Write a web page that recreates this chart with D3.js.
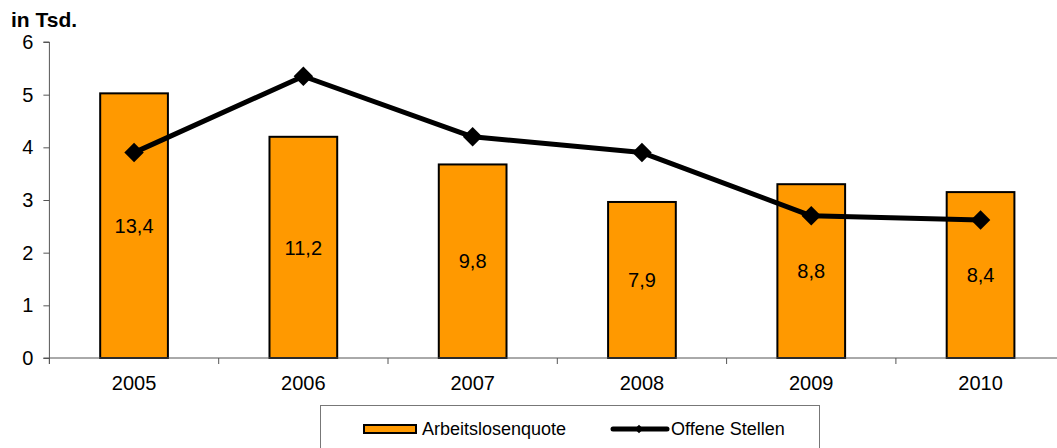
<!DOCTYPE html>
<html>
<head>
<meta charset="utf-8">
<script src="https://cdn.jsdelivr.net/npm/d3@7"></script>
<style>
  html, body { margin: 0; padding: 0; background: #fff; }
  svg { display: block; font-family: "Liberation Sans", Arial, sans-serif; }
</style>
</head>
<body>
<svg id="chart" width="1057" height="448"></svg>
<script>
// Jahre, Arbeitslosenquote (%) und offene Stellen (in Tsd.)
const years = ["2005", "2006", "2007", "2008", "2009", "2010"];
const quote = [13.4, 11.2, 9.8, 7.9, 8.8, 8.4];
const stellen = [3.9, 5.35, 4.2, 3.9, 2.7, 2.62];
const yTicks = [0, 1, 2, 3, 4, 5, 6];

const svg = d3.select("#chart");
const plotLeft = 49.4, plotTop = 42, plotBottom = 358;
const bandW = 169.3;

const x = d3.scaleBand()
  .domain(years)
  .range([plotLeft, plotLeft + bandW * years.length])
  .paddingInner(0).paddingOuter(0);

// linke Achse: offene Stellen in Tsd.
const y = d3.scaleLinear().domain([0, 6]).range([plotBottom, plotTop]);
// verdeckte Nebenachse für die Quote
const y2 = d3.scaleLinear().domain([0, 16]).range([plotBottom, plotTop]);

const barW = x.bandwidth() * 0.4;

// Balken
svg.append("g").selectAll("rect")
  .data(years)
  .join("rect")
  .attr("x", (d) => x(d) + x.bandwidth() / 2 - barW / 2)
  .attr("y", (d, i) => y2(quote[i]))
  .attr("width", barW)
  .attr("height", (d, i) => plotBottom - y2(quote[i]))
  .attr("fill", "#FF9900")
  .attr("stroke", "#000")
  .attr("stroke-width", 2);

// Werte in Balkenmitte
svg.append("g").selectAll("text")
  .data(years)
  .join("text")
  .attr("x", (d) => x(d) + x.bandwidth() / 2)
  .attr("y", (d, i) => (y2(quote[i]) + plotBottom) / 2)
  .attr("dy", "0.36em")
  .attr("text-anchor", "middle")
  .attr("font-size", 20)
  .attr("fill", "#000")
  .text((d, i) => d3.format(".1f")(quote[i]).replace(".", ","));

// x-Achse
const xAxisG = svg.append("g");
xAxisG.append("line")
  .attr("x1", plotLeft - 6).attr("x2", 1057)
  .attr("y1", plotBottom).attr("y2", plotBottom)
  .attr("stroke", "#555").attr("stroke-width", 1);
const boundaries = d3.range(years.length + 1).map((i) => plotLeft + i * bandW);
xAxisG.selectAll("line.tick")
  .data(boundaries)
  .join("line")
  .attr("class", "tick")
  .attr("x1", (d) => d).attr("x2", (d) => d)
  .attr("y1", plotBottom).attr("y2", plotBottom + 6)
  .attr("stroke", "#555");
xAxisG.selectAll("text")
  .data(years)
  .join("text")
  .attr("x", (d) => x(d) + x.bandwidth() / 2)
  .attr("y", 390)
  .attr("text-anchor", "middle")
  .attr("font-size", 20)
  .text((d) => d);

// y-Achse
const yAxis = d3.axisLeft(y).tickValues(yTicks).tickSize(6).tickPadding(10)
  .tickFormat(d3.format("d"));
const yAxisG = svg.append("g")
  .attr("transform", `translate(${plotLeft},0)`)
  .call(yAxis);
yAxisG.select(".domain").attr("stroke", "#555").attr("d", `M-6,${plotTop}H0V${plotBottom + 6}`);
yAxisG.selectAll(".tick line").attr("stroke", "#555");
yAxisG.selectAll(".tick text")
  .attr("font-size", 20)
  .attr("font-family", "Liberation Sans, Arial, sans-serif")
  .attr("fill", "#000");

// Linie: offene Stellen
const line = d3.line()
  .x((d, i) => x(years[i]) + x.bandwidth() / 2)
  .y((d) => y(d));
svg.append("path")
  .datum(stellen)
  .attr("d", line)
  .attr("fill", "none")
  .attr("stroke", "#000")
  .attr("stroke-width", 5)
  .attr("stroke-linejoin", "round");

const diamond = d3.symbol().type(d3.symbolSquare).size(190);
svg.append("g").selectAll("path")
  .data(stellen)
  .join("path")
  .attr("d", diamond)
  .attr("transform", (d, i) =>
    `translate(${x(years[i]) + x.bandwidth() / 2},${y(d)}) rotate(45)`)
  .attr("fill", "#000");

// Einheit
svg.append("text")
  .attr("x", 11).attr("y", 27)
  .attr("font-size", 21).attr("font-weight", "bold")
  .text("in Tsd.");

// Legende
const lg = svg.append("g");
lg.append("rect")
  .attr("x", 320.5).attr("y", 405.5)
  .attr("width", 499).attr("height", 50)
  .attr("fill", "#fff").attr("stroke", "#777").attr("stroke-width", 1);
lg.append("rect")
  .attr("x", 364).attr("y", 425)
  .attr("width", 52).attr("height", 8)
  .attr("fill", "#FF9900").attr("stroke", "#000").attr("stroke-width", 2);
lg.append("text")
  .attr("x", 422).attr("y", 435)
  .attr("font-size", 18)
  .text("Arbeitslosenquote");
lg.append("line")
  .attr("x1", 613).attr("x2", 667)
  .attr("y1", 429).attr("y2", 429)
  .attr("stroke", "#000").attr("stroke-width", 5).attr("stroke-linecap", "round");
lg.append("path")
  .attr("d", d3.symbol().type(d3.symbolSquare).size(36))
  .attr("transform", "translate(639,429) rotate(45)")
  .attr("fill", "#000");
lg.append("text")
  .attr("x", 671).attr("y", 435)
  .attr("font-size", 18)
  .text("Offene Stellen");
</script>
</body>
</html>
